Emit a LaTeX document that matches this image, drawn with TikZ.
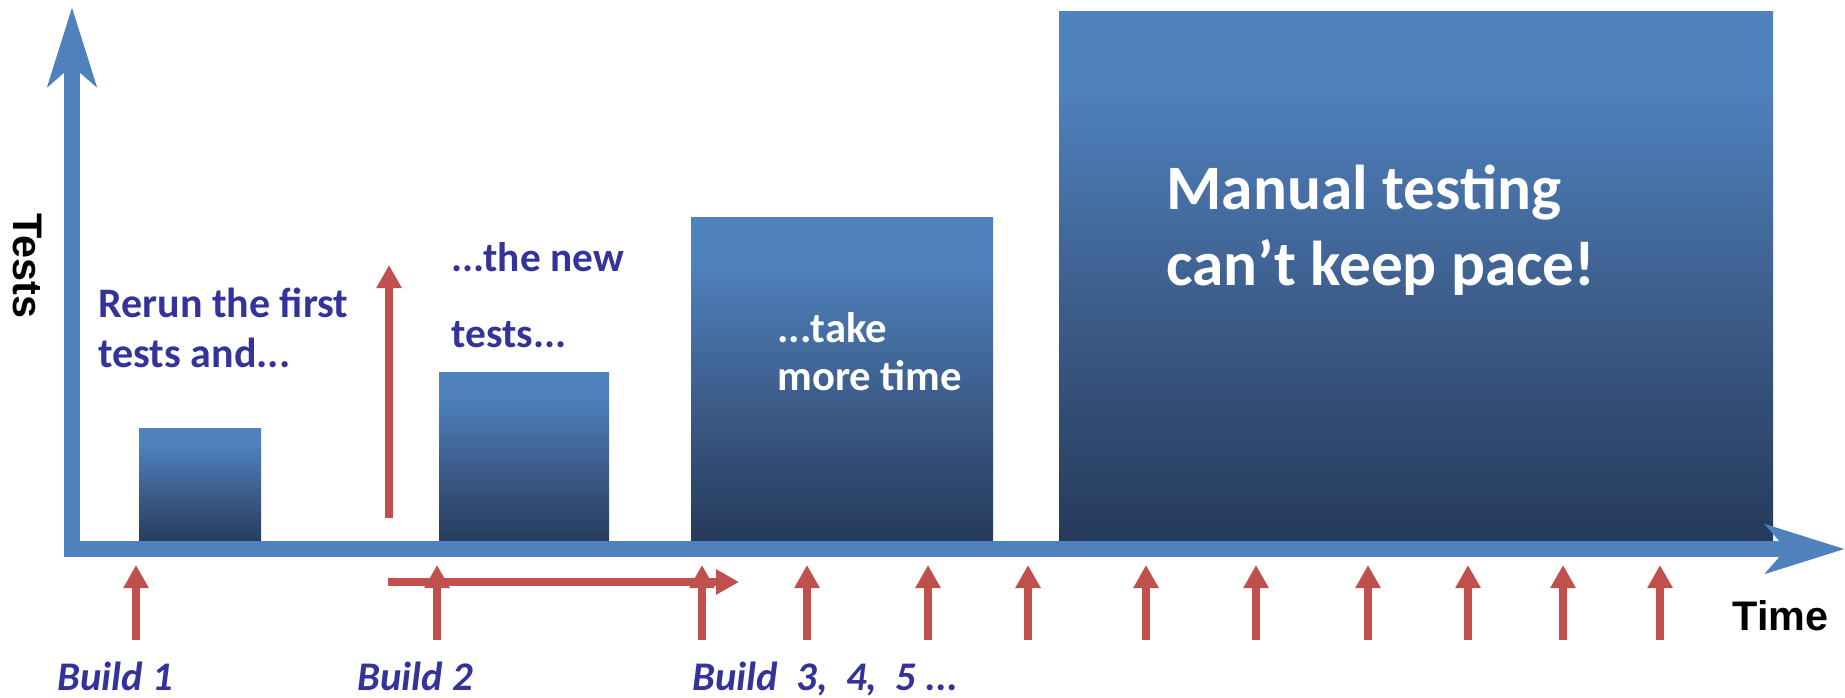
\documentclass[tikz,border=0pt]{standalone}
\usepackage{fontspec}
\setmainfont{Carlito}
\newfontfamily\arialfont{Liberation Sans}
\usetikzlibrary{arrows.meta}

\definecolor{axisblue}{RGB}{79,129,189}
\definecolor{arrowred}{RGB}{192,80,77}
\definecolor{labelblue}{RGB}{51,51,153}
\definecolor{barlight}{RGB}{79,129,189}
\definecolor{barmid}{RGB}{58,89,133}
\definecolor{bardark}{RGB}{37,58,89}
\pgfdeclareverticalshading{barfill}{100bp}{color(0bp)=(bardark); color(25bp)=(bardark); color(45bp)=(barmid); color(68bp)=(barlight); color(100bp)=(barlight)}

\tikzset{every picture/.style={line width=0.75pt}}
\tikzset{
  axisline/.style={draw=axisblue, line width=12pt, -{Stealth[length=59pt,width=36pt,inset=15pt]}},
  redarrow/.style={draw=arrowred, line width=6pt, -{Triangle[length=17.25pt,width=18pt]}},
  testbar/.style={shading=barfill},
  note/.style={text=labelblue, font=\bfseries\fontsize{31.5}{37.5}\selectfont, inner sep=0pt, align=left, anchor=base west},
  buildlbl/.style={text=labelblue, font=\bfseries\itshape\fontsize{30.5}{36}\selectfont, inner sep=0pt, anchor=base west},
  axislbl/.style={text=black, font=\arialfont\bfseries\fontsize{31}{37}\selectfont, inner sep=0pt}
}

\begin{document}
\begin{tikzpicture}[x=0.75pt,y=0.75pt,yscale=-1,xscale=1]
\useasboundingbox (0,0) rectangle (1845,697);

%Shape: Rectangle [build 1 bar]
\path [testbar] (139,428) rectangle (261,545);
%Shape: Rectangle [build 2 bar]
\path [testbar] (439,372) rectangle (609,545);
%Shape: Rectangle [build 3 bar]
\path [testbar] (691,217) rectangle (993,545);
%Shape: Rectangle [later builds bar]
\path [testbar] (1059,11) rectangle (1773,545);

% Text Node (base is the last line)
\node (rerun) [note] at (98,367) {Rerun the first\\tests and...};
% Text Node
\node (newtests) [note, font=\bfseries\fontsize{31}{57}\selectfont] at (451,347) {...the new\\tests...};
% Text Node
\node (taketime) [note, text=white, font=\bfseries\fontsize{32}{36}\selectfont] at (777,390) {...take\\more time};
% Text Node
\node (keeppace) [note, text=white, font=\bfseries\fontsize{47.5}{57}\selectfont] at (1166,285) {Manual testing\\can't keep pace!};

% Text Node
\node (build1) [buildlbl] at (57,690) {Build 1};
% Text Node
\node (build2) [buildlbl] at (357,690) {Build 2};
% Text Node
\node (build3) [buildlbl] at (692,690) {Build\ \ 3,\ \ 4,\ \ 5 ...};

% Text Node
\node (testslbl) [axislbl, rotate=-90] at (27.5,266) {Tests};
% Text Node
\node (timelbl) [axislbl, anchor=base west] at (1732,630) {Time};

%Straight Lines [growing test suite]
\coordinate (risefoot) at (389,518);
\coordinate (risetip) at (389,265);
\draw [redarrow] (risefoot) -- (risetip);
%Straight Lines [build 2 to build 3]
\coordinate (spanfoot) at (388,582);
\coordinate (spantip) at (739,582);
\draw [redarrow] (spanfoot) -- (spantip);
%Straight Lines [builds]
\foreach \n/\x in {1/136,2/437,3/702,4/807,5/928,6/1028,7/1146,8/1256,9/1368,10/1468,11/1563,12/1660}{
  \coordinate (bldfoot\n) at (\x,640);
  \coordinate (bldtip\n) at (\x,565);
  \draw [redarrow] (bldfoot\n) -- (bldtip\n);
}

%Straight Lines [axes]
\coordinate (yfoot) at (72,557);
\coordinate (ytip) at (72,7);
\coordinate (xfoot) at (64,549);
\coordinate (xtip) at (1845,549);
\draw [axisline] (yfoot) -- (ytip);
\draw [axisline] (xfoot) -- (xtip);

\end{tikzpicture}
\end{document}
